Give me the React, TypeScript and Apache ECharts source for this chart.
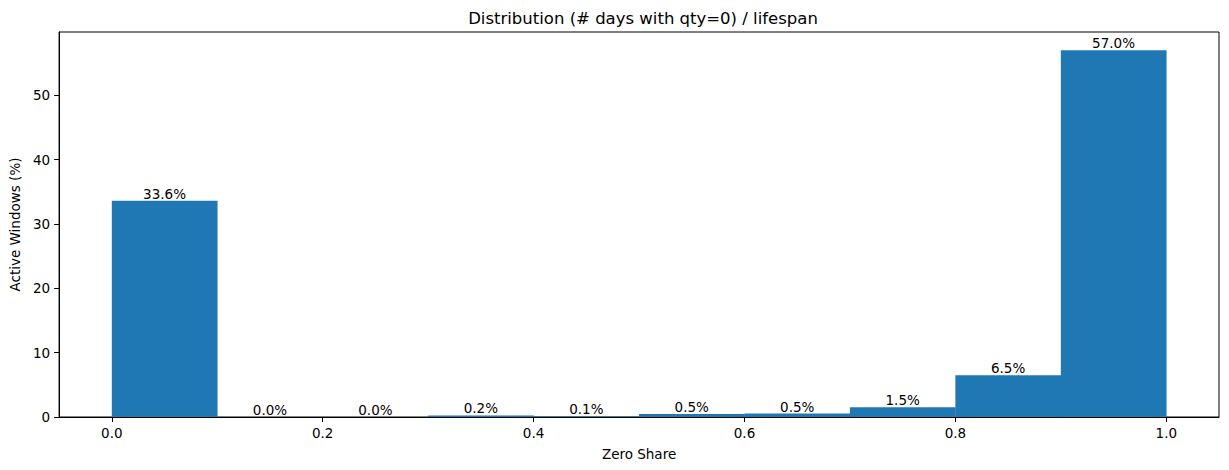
import React, { useEffect, useRef } from "react";
import * as echarts from "echarts";

const binStarts = [0.0, 0.1, 0.2, 0.3, 0.4, 0.5, 0.6, 0.7, 0.8, 0.9];
const binEnds = [0.1, 0.2, 0.3, 0.4, 0.5, 0.6, 0.7, 0.8, 0.9, 1.0];
const shares = [33.6, 0.0, 0.0, 0.24, 0.12, 0.47, 0.54, 1.5, 6.5, 57.0];
const xTicks = [0.0, 0.2, 0.4, 0.6, 0.8, 1.0];

const FONT = "DejaVu Sans";

export default function App() {
  const ref = useRef<HTMLDivElement>(null);
  useEffect(() => {
    if (!ref.current) return;
    const chart = echarts.init(ref.current, undefined, { renderer: "svg" });
    const data = binStarts.map((s, i) => [s, binEnds[i], shares[i]]);
    chart.setOption({
      animation: false,
      textStyle: { fontFamily: FONT },
      title: {
        text: "Distribution (# days with qty=0) / lifespan",
        left: 638,
        textAlign: "center",
        top: 5,
        textStyle: { fontFamily: FONT, fontSize: 16.5, fontWeight: "normal", color: "#000" },
      },
      grid: {
        left: 57,
        top: 32,
        right: 10,
        bottom: 53,
        show: true,
        borderColor: "#000",
        borderWidth: 1,
        backgroundColor: "transparent",
      },
      xAxis: {
        type: "value",
        min: -0.05,
        max: 1.05,
        name: "Zero Share",
        nameLocation: "middle",
        nameGap: 30,
        nameTextStyle: { fontFamily: FONT, fontSize: 13.5, color: "#000" },
        splitLine: { show: false },
        axisLine: { show: true, onZero: false, lineStyle: { color: "#000", width: 1 } },
        axisTick: { show: true, customValues: xTicks, length: 5, lineStyle: { color: "#000" } },
        axisLabel: {
          customValues: xTicks,
          formatter: (v: number) => v.toFixed(1),
          fontFamily: FONT,
          fontSize: 13.5,
          color: "#000",
          margin: 9,
        },
      },
      yAxis: {
        type: "value",
        min: 0,
        max: 59.85,
        interval: 10,
        name: "Active Windows (%)",
        nameLocation: "middle",
        nameGap: 33,
        nameTextStyle: { fontFamily: FONT, fontSize: 13.5, color: "#000" },
        splitLine: { show: false },
        axisLine: { show: true, onZero: false, lineStyle: { color: "#000", width: 1 } },
        axisTick: { show: true, length: 5, lineStyle: { color: "#000" } },
        axisLabel: {
          fontFamily: FONT,
          fontSize: 13.5,
          color: "#000",
          margin: 9,
          showMaxLabel: false,
        },
      },
      series: [
        {
          type: "custom",
          data,
          encode: { x: [0, 1], y: 2 },
          renderItem: (params: any, api: any) => {
            const x0 = api.value(0);
            const x1 = api.value(1);
            const y = api.value(2);
            const p0 = api.coord([x0, 0]);
            const p1 = api.coord([x1, y]);
            return {
              type: "group",
              children: [
                {
                  type: "rect",
                  shape: { x: p0[0], y: p1[1], width: p1[0] - p0[0] + 0.3, height: p0[1] - p1[1] },
                  style: { fill: "#1f77b4" },
                },
                {
                  type: "text",
                  x: (p0[0] + p1[0]) / 2,
                  y: p1[1],
                  style: {
                    text: y.toFixed(1) + "%",
                    align: "center",
                    verticalAlign: "bottom",
                    fontFamily: FONT,
                    fontSize: 13.5,
                    fill: "#000",
                  },
                },
              ],
            };
          },
        },
      ],
    });
    return () => chart.dispose();
  }, []);
  return (
    <div
      ref={ref}
      style={{ position: "absolute", left: 0, top: 0, width: 1229, height: 470, background: "#fff" }}
    />
  );
}
